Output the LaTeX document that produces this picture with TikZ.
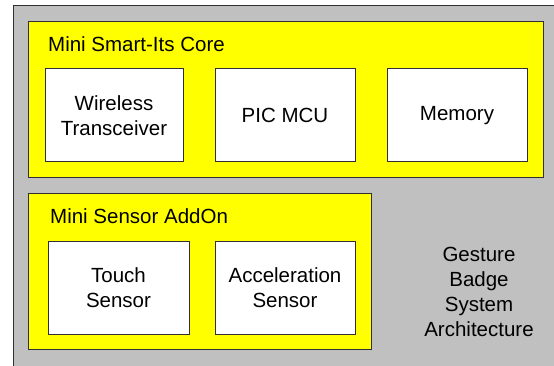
\documentclass[tikz,border=0pt]{standalone}
\usepackage{fontspec}
\setmainfont{Liberation Sans}
\definecolor{bggray}{HTML}{C0C0C0}
\definecolor{boxyellow}{HTML}{FFFF00}
\definecolor{edge}{HTML}{303030}
\begin{document}
\begin{tikzpicture}[x=1pt,y=-1pt,
  txt/.style={font=\fontsize{20.5}{25}\selectfont, inner sep=0pt, align=center},
  panel/.style={draw=edge, line width=1pt, fill=boxyellow},
  part/.style={draw=edge, line width=1pt, fill=white, txt}]
\useasboundingbox (0,0) rectangle (554,366);
\fill[white] (0,0) rectangle (554,366);
\draw[draw=edge, line width=1pt, fill=bggray] (13,6) rectangle (600,400);
% core
\draw[panel] (28,22) rectangle (543,178);
\node[txt, anchor=base west] (coretitle) at (48,52) {Mini Smart-Its Core};
\node[part, minimum width=138pt, minimum height=93pt] (wireless) at (114,115.5) {Wireless\\Transceiver};
\node[part, minimum width=140pt, minimum height=93pt] (pic) at (285,115.5) {PIC MCU};
\node[part, minimum width=140pt, minimum height=93pt] (mem) at (457,115.5) {Memory};
% sensor
\draw[panel] (28,194) rectangle (371,349);
\node[txt, anchor=base west] (sensortitle) at (50,223) {Mini Sensor AddOn};
\node[part, minimum width=141pt, minimum height=93pt] (touch) at (118.5,287.5) {Touch\\Sensor};
\node[part, minimum width=140pt, minimum height=93pt] (accel) at (285,287.5) {Acceleration\\Sensor};
% caption
\node[txt] (caption) at (479,292) {Gesture\\Badge\\System\\Architecture};
\end{tikzpicture}
\end{document}
